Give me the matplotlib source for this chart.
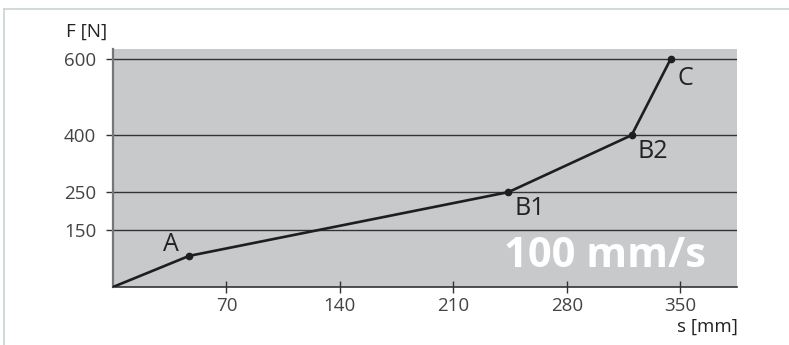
import matplotlib.pyplot as plt
from matplotlib.lines import Line2D

# force curve data
s_mm = [0, 47, 244, 320, 344]
f_n = [0, 82, 250, 400, 600]
point_names = ["A", "B1", "B2", "C"]
label_pos = [(36, 113), (257, 206), (333, 356), (353, 550)]
y_ticks = [150, 250, 400, 600]
x_ticks = [70, 140, 210, 280, 350]
speed_text = "100 mm/s"

plt.rcParams['font.family'] = ['Open Sans', 'DejaVu Sans']

fig = plt.figure(figsize=(7.89, 3.45), dpi=100)
ax = fig.add_axes([113 / 789, 58 / 345, 624 / 789, 238 / 345])
ax.set_facecolor('#c8c9cb')

# thin frame around the picture
frame_col = '#c9d3d3'
fig.add_artist(Line2D([4 / 789, 1], [1 - 9 / 345, 1 - 9 / 345], color=frame_col, lw=1.2))
fig.add_artist(Line2D([4 / 789, 4 / 789], [0, 1 - 9 / 345], color=frame_col, lw=1.2))

# horizontal grid lines
for y in y_ticks:
    ax.axhline(y, color='#333333', lw=1.0, zorder=1)

ax.plot(s_mm, f_n, color='#1e1e1e', lw=1.9, zorder=3)
ax.plot(s_mm[1:], f_n[1:], 'o', color='#1e1e1e', ms=4.5, zorder=4)

for name, (lx, ly) in zip(point_names, label_pos):
    ax.text(lx, ly, name, fontsize=18, color='#222222', ha='center', va='center')

ax.text(366, 81, speed_text, fontsize=30, fontweight='bold', color='white',
        ha='right', va='center')

ax.set_xlim(0, 385)
ax.set_ylim(0, 627)
ax.set_xticks(x_ticks)
ax.set_yticks(y_ticks)
ax.tick_params(axis='y', direction='out', length=5, width=1, color='#333333',
               labelsize=13.5, labelcolor='#444444', pad=7)
ax.tick_params(axis='x', direction='inout', length=8, width=1, color='#333333',
               labelsize=13.5, labelcolor='#444444', pad=3)

for side in ['top', 'right']:
    ax.spines[side].set_visible(False)
ax.spines['left'].set_color('#777777')
ax.spines['left'].set_linewidth(1.6)
ax.spines['bottom'].set_color('#333333')
ax.spines['bottom'].set_linewidth(1.2)

fig.text(87 / 789, 1 - 32 / 345, "F [N]", fontsize=13.5, color='#222222', ha='center', va='center')
fig.text(738 / 789, 1 - 327 / 345, "s [mm]", fontsize=13.5, color='#222222', ha='right', va='center')

fig.savefig('out.png', dpi=100)
